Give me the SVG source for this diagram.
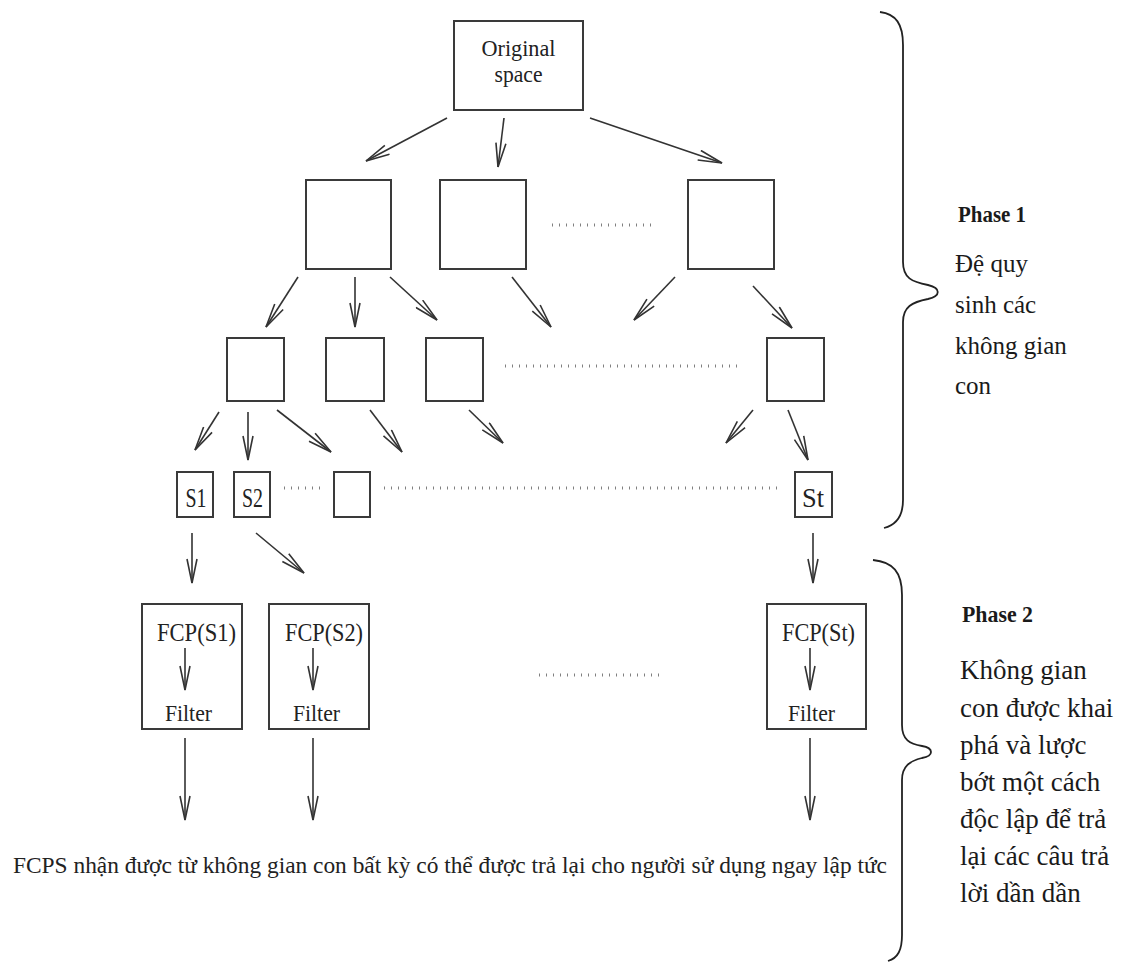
<svg xmlns="http://www.w3.org/2000/svg" width="1130" height="965" viewBox="0 0 1130 965">
<style>
.box{fill:#fff;stroke:#3a3a3a;stroke-width:2}
.lbl{font-family:"Liberation Serif","Times New Roman",serif;fill:#222}
.arr{stroke:#333;stroke-width:1.6;fill:none;marker-end:url(#ah)}
.dots{stroke:#808080;stroke-width:3;stroke-dasharray:1 6;fill:none}
.brace{stroke:#222;stroke-width:1.8;fill:none}
.side{font-family:"Liberation Serif","Times New Roman",serif;fill:#1a1a1a}
</style>
<defs>
<marker id="ah" markerUnits="userSpaceOnUse" viewBox="0 0 26 12" refX="25" refY="6" markerWidth="26" markerHeight="12" orient="auto">
<path d="M1,1 L25,6 L1,11" fill="none" stroke="#333" stroke-width="1.6"/>
</marker>
</defs>
<rect width="1130" height="965" fill="#fff"/>

<g id="n-original">
<rect class="box" x="454" y="21" width="129" height="89"/>
<text class="lbl" x="518.5" y="56" font-size="23" text-anchor="middle" textLength="74" lengthAdjust="spacingAndGlyphs">Original</text>
<text class="lbl" x="518.5" y="82" font-size="23" text-anchor="middle" textLength="48" lengthAdjust="spacingAndGlyphs">space</text>
</g>
<g id="n-l1a"><rect class="box" x="306" y="180" width="85" height="89"/></g>
<g id="n-l1b"><rect class="box" x="440" y="180" width="86" height="89"/></g>
<g id="n-l1c"><rect class="box" x="688" y="180" width="86" height="89"/></g>
<g id="n-l2a"><rect class="box" x="227" y="338" width="57" height="63"/></g>
<g id="n-l2b"><rect class="box" x="326" y="338" width="58" height="63"/></g>
<g id="n-l2c"><rect class="box" x="426" y="338" width="57" height="63"/></g>
<g id="n-l2d"><rect class="box" x="767" y="338" width="57" height="63"/></g>
<g id="n-s1">
<rect class="box" x="177" y="472" width="36" height="45"/>
<text class="lbl" x="185.5" y="507" font-size="28" textLength="21" lengthAdjust="spacingAndGlyphs">S1</text>
</g>
<g id="n-s2">
<rect class="box" x="234" y="472" width="36" height="45"/>
<text class="lbl" x="242" y="507" font-size="28" textLength="21" lengthAdjust="spacingAndGlyphs">S2</text>
</g>
<g id="n-s3"><rect class="box" x="334" y="472" width="36" height="45"/></g>
<g id="n-st">
<rect class="box" x="795" y="472" width="37" height="45"/>
<text class="lbl" x="802" y="507" font-size="28" textLength="22" lengthAdjust="spacingAndGlyphs">St</text>
</g>
<g id="n-fcp1">
<rect class="box" x="142" y="604" width="100" height="125"/>
<text class="lbl" x="157" y="641" font-size="26" textLength="79" lengthAdjust="spacingAndGlyphs">FCP(S1)</text>
<text class="lbl" x="165" y="721" font-size="24" textLength="47" lengthAdjust="spacingAndGlyphs">Filter</text>
</g>
<g id="n-fcp2">
<rect class="box" x="269" y="604" width="100" height="125"/>
<text class="lbl" x="285" y="641" font-size="26" textLength="78" lengthAdjust="spacingAndGlyphs">FCP(S2)</text>
<text class="lbl" x="293" y="721" font-size="24" textLength="47" lengthAdjust="spacingAndGlyphs">Filter</text>
</g>
<g id="n-fcpt">
<rect class="box" x="767" y="604" width="99" height="125"/>
<text class="lbl" x="782" y="641" font-size="26" textLength="73" lengthAdjust="spacingAndGlyphs">FCP(St)</text>
<text class="lbl" x="788" y="721" font-size="24" textLength="47" lengthAdjust="spacingAndGlyphs">Filter</text>
</g>

<g id="connectors">
<path class="arr" d="M447,118 L366,161"/>
<path class="arr" d="M504,118 L498,167"/>
<path class="arr" d="M590,118 L722,163"/>
<path class="arr" d="M298,277 L266,327"/>
<path class="arr" d="M355,277 L355,327"/>
<path class="arr" d="M390,277 L437,320"/>
<path class="arr" d="M512,277 L551,327"/>
<path class="arr" d="M675,277 L634,320"/>
<path class="arr" d="M753,286 L792,328"/>
<path class="arr" d="M219,412 L195,450"/>
<path class="arr" d="M248,412 L248,460"/>
<path class="arr" d="M277,410 L331,452"/>
<path class="arr" d="M370,410 L402,452"/>
<path class="arr" d="M469,410 L503,443"/>
<path class="arr" d="M753,410 L726,443"/>
<path class="arr" d="M788,410 L808,460"/>
<path class="arr" d="M192,533 L192,583"/>
<path class="arr" d="M256,533 L304,573"/>
<path class="arr" d="M813,533 L813,583"/>
<path class="arr" d="M185,648 L185,690"/>
<path class="arr" d="M313,648 L313,690"/>
<path class="arr" d="M810,648 L810,690"/>
<path class="arr" d="M185,738 L185,820"/>
<path class="arr" d="M313,738 L313,820"/>
<path class="arr" d="M810,738 L810,820"/>
</g>

<g id="ellipses">
<path class="dots" d="M552,225 L654,225"/>
<path class="dots" d="M505,366 L738,366"/>
<path class="dots" d="M284,488 L322,488"/>
<path class="dots" d="M384,488 L782,488"/>
<path class="dots" d="M539,675 L663,675"/>
</g>

<g id="bottom-text">
<text class="lbl" x="13" y="873" font-size="23" textLength="874" lengthAdjust="spacingAndGlyphs">FCPS nhận được từ không gian con bất kỳ có thể được trả lại cho người sử dụng ngay lập tức</text>
</g>

<g id="phase1">
<path class="brace" d="M880,12 C896,14 903,24 903,45 L903,262 C903,278 912,282 928,285 C941,288 941,296 928,299 C912,302 903,307 903,322 L903,500 C903,516 896,525 884,528"/>
<text class="side" x="958" y="222" font-size="23" font-weight="bold" textLength="68" lengthAdjust="spacingAndGlyphs">Phase 1</text>
<text class="side" x="955" y="272" font-size="25">Đệ quy</text>
<text class="side" x="955" y="313" font-size="25">sinh các</text>
<text class="side" x="955" y="354" font-size="25">không gian</text>
<text class="side" x="955" y="394" font-size="25">con</text>
</g>

<g id="phase2">
<path class="brace" d="M873,560 C893,562 902,572 902,595 L902,725 C902,740 910,744 922,746 C934,748 934,756 922,758 C910,761 902,766 902,780 L902,935 C902,950 898,958 888,961"/>
<text class="side" x="962" y="622" font-size="23" font-weight="bold" textLength="71" lengthAdjust="spacingAndGlyphs">Phase 2</text>
<text class="side" x="960" y="679" font-size="27">Không gian</text>
<text class="side" x="960" y="717" font-size="27">con được khai</text>
<text class="side" x="960" y="754" font-size="27">phá và lược</text>
<text class="side" x="960" y="791" font-size="27">bớt một cách</text>
<text class="side" x="960" y="828" font-size="27">độc lập để trả</text>
<text class="side" x="960" y="865" font-size="27">lại các câu trả</text>
<text class="side" x="960" y="902" font-size="27">lời dần dần</text>
</g>
</svg>
